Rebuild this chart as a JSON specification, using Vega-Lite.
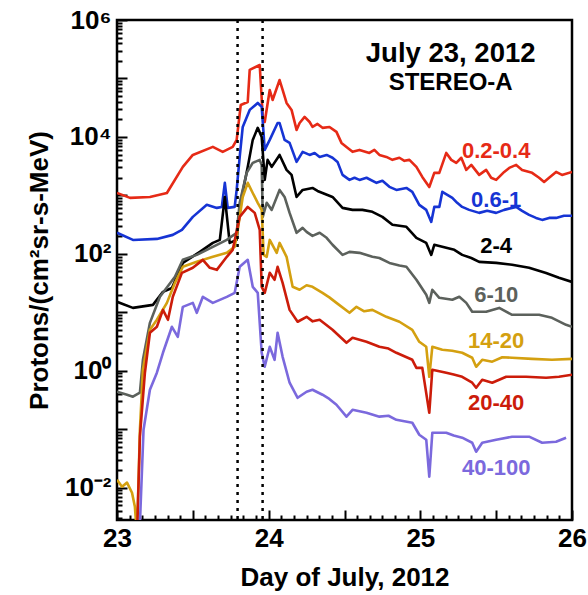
{
  "$schema": "https://vega.github.io/schema/vega-lite/v6.json",
  "width": 455,
  "height": 500,
  "autosize": {"type": "none"},
  "padding": {"left": 117, "top": 20, "right": 16, "bottom": 75},
  "datasets": {
    "flux": [
      {"s": "0.2-0.4", "d": 23.0, "v": 1100}, {"s": "0.2-0.4", "d": 23.086, "v": 906}, {"s": "0.2-0.4", "d": 23.217, "v": 940}, {"s": "0.2-0.4", "d": 23.329, "v": 1100},
      {"s": "0.2-0.4", "d": 23.434, "v": 3070}, {"s": "0.2-0.4", "d": 23.5, "v": 4920}, {"s": "0.2-0.4", "d": 23.632, "v": 6750}, {"s": "0.2-0.4", "d": 23.697, "v": 5550},
      {"s": "0.2-0.4", "d": 23.763, "v": 6750}, {"s": "0.2-0.4", "d": 23.789, "v": 8900}, {"s": "0.2-0.4", "d": 23.816, "v": 35200}, {"s": "0.2-0.4", "d": 23.862, "v": 39600},
      {"s": "0.2-0.4", "d": 23.875, "v": 140000}, {"s": "0.2-0.4", "d": 23.941, "v": 170000}, {"s": "0.2-0.4", "d": 23.961, "v": 22000}, {"s": "0.2-0.4", "d": 23.974, "v": 18000},
      {"s": "0.2-0.4", "d": 24.007, "v": 63500}, {"s": "0.2-0.4", "d": 24.026, "v": 42900}, {"s": "0.2-0.4", "d": 24.072, "v": 94000}, {"s": "0.2-0.4", "d": 24.092, "v": 63500},
      {"s": "0.2-0.4", "d": 24.118, "v": 38100}, {"s": "0.2-0.4", "d": 24.151, "v": 29000}, {"s": "0.2-0.4", "d": 24.184, "v": 13200}, {"s": "0.2-0.4", "d": 24.204, "v": 17300},
      {"s": "0.2-0.4", "d": 24.237, "v": 22000}, {"s": "0.2-0.4", "d": 24.27, "v": 18000}, {"s": "0.2-0.4", "d": 24.289, "v": 14800}, {"s": "0.2-0.4", "d": 24.322, "v": 16700},
      {"s": "0.2-0.4", "d": 24.355, "v": 14300}, {"s": "0.2-0.4", "d": 24.401, "v": 14800}, {"s": "0.2-0.4", "d": 24.447, "v": 12200}, {"s": "0.2-0.4", "d": 24.48, "v": 7900},
      {"s": "0.2-0.4", "d": 24.513, "v": 6750}, {"s": "0.2-0.4", "d": 24.553, "v": 5550}, {"s": "0.2-0.4", "d": 24.599, "v": 6000}, {"s": "0.2-0.4", "d": 24.664, "v": 5320},
      {"s": "0.2-0.4", "d": 24.697, "v": 6000}, {"s": "0.2-0.4", "d": 24.73, "v": 4920}, {"s": "0.2-0.4", "d": 24.776, "v": 4550}, {"s": "0.2-0.4", "d": 24.816, "v": 4050},
      {"s": "0.2-0.4", "d": 24.862, "v": 4400}, {"s": "0.2-0.4", "d": 24.895, "v": 3900}, {"s": "0.2-0.4", "d": 24.928, "v": 4050}, {"s": "0.2-0.4", "d": 24.974, "v": 3070},
      {"s": "0.2-0.4", "d": 25.013, "v": 2070}, {"s": "0.2-0.4", "d": 25.059, "v": 1390}, {"s": "0.2-0.4", "d": 25.092, "v": 2430}, {"s": "0.2-0.4", "d": 25.125, "v": 2430},
      {"s": "0.2-0.4", "d": 25.171, "v": 5320}, {"s": "0.2-0.4", "d": 25.204, "v": 4050}, {"s": "0.2-0.4", "d": 25.237, "v": 3600}, {"s": "0.2-0.4", "d": 25.27, "v": 4400},
      {"s": "0.2-0.4", "d": 25.303, "v": 2730}, {"s": "0.2-0.4", "d": 25.336, "v": 3320}, {"s": "0.2-0.4", "d": 25.388, "v": 2240}, {"s": "0.2-0.4", "d": 25.434, "v": 2730},
      {"s": "0.2-0.4", "d": 25.467, "v": 2000}, {"s": "0.2-0.4", "d": 25.5, "v": 1840}, {"s": "0.2-0.4", "d": 25.553, "v": 2520}, {"s": "0.2-0.4", "d": 25.586, "v": 2950},
      {"s": "0.2-0.4", "d": 25.632, "v": 3320}, {"s": "0.2-0.4", "d": 25.671, "v": 2730}, {"s": "0.2-0.4", "d": 25.737, "v": 2430}, {"s": "0.2-0.4", "d": 25.783, "v": 2000},
      {"s": "0.2-0.4", "d": 25.816, "v": 1700}, {"s": "0.2-0.4", "d": 25.849, "v": 2000}, {"s": "0.2-0.4", "d": 25.895, "v": 2520}, {"s": "0.2-0.4", "d": 25.934, "v": 2240},
      {"s": "0.2-0.4", "d": 26.0, "v": 2520},

      {"s": "0.6-1", "d": 23.0, "v": 229}, {"s": "0.6-1", "d": 23.105, "v": 173}, {"s": "0.6-1", "d": 23.263, "v": 180}, {"s": "0.6-1", "d": 23.368, "v": 211},
      {"s": "0.6-1", "d": 23.428, "v": 257}, {"s": "0.6-1", "d": 23.5, "v": 429}, {"s": "0.6-1", "d": 23.592, "v": 689}, {"s": "0.6-1", "d": 23.658, "v": 611},
      {"s": "0.6-1", "d": 23.691, "v": 635}, {"s": "0.6-1", "d": 23.711, "v": 1640}, {"s": "0.6-1", "d": 23.73, "v": 611}, {"s": "0.6-1", "d": 23.776, "v": 635},
      {"s": "0.6-1", "d": 23.789, "v": 1240}, {"s": "0.6-1", "d": 23.809, "v": 4550}, {"s": "0.6-1", "d": 23.829, "v": 14800}, {"s": "0.6-1", "d": 23.875, "v": 29000},
      {"s": "0.6-1", "d": 23.928, "v": 38100}, {"s": "0.6-1", "d": 23.954, "v": 32600}, {"s": "0.6-1", "d": 23.974, "v": 6000}, {"s": "0.6-1", "d": 24.007, "v": 8900},
      {"s": "0.6-1", "d": 24.059, "v": 17300}, {"s": "0.6-1", "d": 24.072, "v": 17300}, {"s": "0.6-1", "d": 24.105, "v": 8900}, {"s": "0.6-1", "d": 24.138, "v": 7900},
      {"s": "0.6-1", "d": 24.184, "v": 3740}, {"s": "0.6-1", "d": 24.224, "v": 5550}, {"s": "0.6-1", "d": 24.27, "v": 4920}, {"s": "0.6-1", "d": 24.303, "v": 5320},
      {"s": "0.6-1", "d": 24.336, "v": 4550}, {"s": "0.6-1", "d": 24.382, "v": 4920}, {"s": "0.6-1", "d": 24.421, "v": 4400}, {"s": "0.6-1", "d": 24.454, "v": 3740},
      {"s": "0.6-1", "d": 24.487, "v": 2240}, {"s": "0.6-1", "d": 24.533, "v": 1840}, {"s": "0.6-1", "d": 24.566, "v": 2000}, {"s": "0.6-1", "d": 24.599, "v": 1840},
      {"s": "0.6-1", "d": 24.645, "v": 2000}, {"s": "0.6-1", "d": 24.711, "v": 1640}, {"s": "0.6-1", "d": 24.75, "v": 1780}, {"s": "0.6-1", "d": 24.796, "v": 1400},
      {"s": "0.6-1", "d": 24.842, "v": 1240}, {"s": "0.6-1", "d": 24.908, "v": 1340}, {"s": "0.6-1", "d": 24.947, "v": 1150}, {"s": "0.6-1", "d": 24.993, "v": 689},
      {"s": "0.6-1", "d": 25.039, "v": 565}, {"s": "0.6-1", "d": 25.072, "v": 352}, {"s": "0.6-1", "d": 25.092, "v": 635}, {"s": "0.6-1", "d": 25.125, "v": 635},
      {"s": "0.6-1", "d": 25.145, "v": 1150}, {"s": "0.6-1", "d": 25.178, "v": 1020}, {"s": "0.6-1", "d": 25.211, "v": 906}, {"s": "0.6-1", "d": 25.243, "v": 745},
      {"s": "0.6-1", "d": 25.276, "v": 635}, {"s": "0.6-1", "d": 25.322, "v": 565}, {"s": "0.6-1", "d": 25.388, "v": 502}, {"s": "0.6-1", "d": 25.441, "v": 545},
      {"s": "0.6-1", "d": 25.5, "v": 502}, {"s": "0.6-1", "d": 25.553, "v": 565}, {"s": "0.6-1", "d": 25.632, "v": 635}, {"s": "0.6-1", "d": 25.671, "v": 545},
      {"s": "0.6-1", "d": 25.717, "v": 464}, {"s": "0.6-1", "d": 25.763, "v": 412}, {"s": "0.6-1", "d": 25.803, "v": 381}, {"s": "0.6-1", "d": 25.849, "v": 412},
      {"s": "0.6-1", "d": 25.895, "v": 412}, {"s": "0.6-1", "d": 25.947, "v": 447}, {"s": "0.6-1", "d": 26.0, "v": 447},

      {"s": "2-4", "d": 23.0, "v": 15.1}, {"s": "2-4", "d": 23.105, "v": 11.9}, {"s": "2-4", "d": 23.237, "v": 13.4}, {"s": "2-4", "d": 23.303, "v": 22.4},
      {"s": "2-4", "d": 23.362, "v": 26}, {"s": "2-4", "d": 23.434, "v": 70}, {"s": "2-4", "d": 23.546, "v": 108}, {"s": "2-4", "d": 23.632, "v": 154},
      {"s": "2-4", "d": 23.678, "v": 173}, {"s": "2-4", "d": 23.711, "v": 940}, {"s": "2-4", "d": 23.743, "v": 154}, {"s": "2-4", "d": 23.789, "v": 173},
      {"s": "2-4", "d": 23.809, "v": 635}, {"s": "2-4", "d": 23.862, "v": 3070}, {"s": "2-4", "d": 23.895, "v": 8900}, {"s": "2-4", "d": 23.928, "v": 14300},
      {"s": "2-4", "d": 23.954, "v": 10000}, {"s": "2-4", "d": 23.974, "v": 1840}, {"s": "2-4", "d": 23.993, "v": 4050}, {"s": "2-4", "d": 24.02, "v": 3070},
      {"s": "2-4", "d": 24.072, "v": 4920}, {"s": "2-4", "d": 24.118, "v": 2730}, {"s": "2-4", "d": 24.151, "v": 2240}, {"s": "2-4", "d": 24.184, "v": 940},
      {"s": "2-4", "d": 24.224, "v": 1240}, {"s": "2-4", "d": 24.289, "v": 1340}, {"s": "2-4", "d": 24.322, "v": 1190}, {"s": "2-4", "d": 24.355, "v": 1100},
      {"s": "2-4", "d": 24.421, "v": 940}, {"s": "2-4", "d": 24.487, "v": 611}, {"s": "2-4", "d": 24.553, "v": 565}, {"s": "2-4", "d": 24.618, "v": 565},
      {"s": "2-4", "d": 24.684, "v": 523}, {"s": "2-4", "d": 24.75, "v": 429}, {"s": "2-4", "d": 24.816, "v": 315}, {"s": "2-4", "d": 24.908, "v": 290},
      {"s": "2-4", "d": 24.974, "v": 188}, {"s": "2-4", "d": 25.039, "v": 154}, {"s": "2-4", "d": 25.072, "v": 96}, {"s": "2-4", "d": 25.092, "v": 143},
      {"s": "2-4", "d": 25.171, "v": 127}, {"s": "2-4", "d": 25.224, "v": 117}, {"s": "2-4", "d": 25.276, "v": 96}, {"s": "2-4", "d": 25.336, "v": 85},
      {"s": "2-4", "d": 25.388, "v": 73}, {"s": "2-4", "d": 25.5, "v": 70}, {"s": "2-4", "d": 25.605, "v": 65}, {"s": "2-4", "d": 25.717, "v": 58},
      {"s": "2-4", "d": 25.829, "v": 47}, {"s": "2-4", "d": 25.914, "v": 39}, {"s": "2-4", "d": 26.0, "v": 33},

      {"s": "6-10", "d": 23.0, "v": 0.438}, {"s": "6-10", "d": 23.066, "v": 0.389}, {"s": "6-10", "d": 23.105, "v": 0.36}, {"s": "6-10", "d": 23.151, "v": 0.421},
      {"s": "6-10", "d": 23.171, "v": 1.54}, {"s": "6-10", "d": 23.217, "v": 6.6}, {"s": "6-10", "d": 23.283, "v": 18.4}, {"s": "6-10", "d": 23.382, "v": 40.5},
      {"s": "6-10", "d": 23.434, "v": 79}, {"s": "6-10", "d": 23.526, "v": 96}, {"s": "6-10", "d": 23.632, "v": 132}, {"s": "6-10", "d": 23.724, "v": 173},
      {"s": "6-10", "d": 23.789, "v": 229}, {"s": "6-10", "d": 23.809, "v": 745}, {"s": "6-10", "d": 23.855, "v": 2430}, {"s": "6-10", "d": 23.895, "v": 3600},
      {"s": "6-10", "d": 23.941, "v": 4050}, {"s": "6-10", "d": 23.954, "v": 3320}, {"s": "6-10", "d": 23.961, "v": 429}, {"s": "6-10", "d": 23.987, "v": 745},
      {"s": "6-10", "d": 24.02, "v": 565}, {"s": "6-10", "d": 24.072, "v": 1240}, {"s": "6-10", "d": 24.105, "v": 940}, {"s": "6-10", "d": 24.138, "v": 502},
      {"s": "6-10", "d": 24.184, "v": 229}, {"s": "6-10", "d": 24.224, "v": 278}, {"s": "6-10", "d": 24.25, "v": 238}, {"s": "6-10", "d": 24.289, "v": 203},
      {"s": "6-10", "d": 24.336, "v": 229}, {"s": "6-10", "d": 24.382, "v": 188}, {"s": "6-10", "d": 24.421, "v": 143}, {"s": "6-10", "d": 24.487, "v": 96},
      {"s": "6-10", "d": 24.533, "v": 108}, {"s": "6-10", "d": 24.599, "v": 104}, {"s": "6-10", "d": 24.684, "v": 89}, {"s": "6-10", "d": 24.73, "v": 85},
      {"s": "6-10", "d": 24.796, "v": 70}, {"s": "6-10", "d": 24.862, "v": 63}, {"s": "6-10", "d": 24.908, "v": 60}, {"s": "6-10", "d": 24.974, "v": 36},
      {"s": "6-10", "d": 25.039, "v": 19.9}, {"s": "6-10", "d": 25.059, "v": 14.5}, {"s": "6-10", "d": 25.079, "v": 24.3}, {"s": "6-10", "d": 25.125, "v": 17.7},
      {"s": "6-10", "d": 25.211, "v": 16.4}, {"s": "6-10", "d": 25.257, "v": 18.4}, {"s": "6-10", "d": 25.303, "v": 14.5}, {"s": "6-10", "d": 25.342, "v": 10.2},
      {"s": "6-10", "d": 25.434, "v": 10.2}, {"s": "6-10", "d": 25.52, "v": 11.9}, {"s": "6-10", "d": 25.605, "v": 9.06}, {"s": "6-10", "d": 25.697, "v": 9.06},
      {"s": "6-10", "d": 25.783, "v": 9.06}, {"s": "6-10", "d": 25.868, "v": 8.05}, {"s": "6-10", "d": 25.961, "v": 6.11}, {"s": "6-10", "d": 26.0, "v": 5.65},

      {"s": "14-20", "d": 23.0, "v": 0.0137}, {"s": "14-20", "d": 23.033, "v": 0.0104}, {"s": "14-20", "d": 23.066, "v": 0.0122}, {"s": "14-20", "d": 23.099, "v": 0.0082},
      {"s": "14-20", "d": 23.118, "v": 0.0047}, {"s": "14-20", "d": 23.132, "v": 0.0015}, {"s": "14-20", "d": 23.151, "v": 0.098}, {"s": "14-20", "d": 23.171, "v": 1.04},
      {"s": "14-20", "d": 23.217, "v": 5.02}, {"s": "14-20", "d": 23.263, "v": 7.45}, {"s": "14-20", "d": 23.329, "v": 14.5}, {"s": "14-20", "d": 23.382, "v": 31.9},
      {"s": "14-20", "d": 23.434, "v": 60}, {"s": "14-20", "d": 23.526, "v": 73}, {"s": "14-20", "d": 23.632, "v": 89}, {"s": "14-20", "d": 23.724, "v": 104},
      {"s": "14-20", "d": 23.776, "v": 132}, {"s": "14-20", "d": 23.796, "v": 257}, {"s": "14-20", "d": 23.829, "v": 940}, {"s": "14-20", "d": 23.862, "v": 1640},
      {"s": "14-20", "d": 23.895, "v": 1100}, {"s": "14-20", "d": 23.928, "v": 745}, {"s": "14-20", "d": 23.954, "v": 565}, {"s": "14-20", "d": 23.967, "v": 96},
      {"s": "14-20", "d": 23.987, "v": 89}, {"s": "14-20", "d": 24.007, "v": 173}, {"s": "14-20", "d": 24.053, "v": 104}, {"s": "14-20", "d": 24.072, "v": 154},
      {"s": "14-20", "d": 24.118, "v": 89}, {"s": "14-20", "d": 24.158, "v": 27.3}, {"s": "14-20", "d": 24.204, "v": 24.3}, {"s": "14-20", "d": 24.25, "v": 29},
      {"s": "14-20", "d": 24.289, "v": 27.3}, {"s": "14-20", "d": 24.355, "v": 21.5}, {"s": "14-20", "d": 24.4, "v": 18}, {"s": "14-20", "d": 24.447, "v": 14.5},
      {"s": "14-20", "d": 24.533, "v": 9.8}, {"s": "14-20", "d": 24.579, "v": 12.4}, {"s": "14-20", "d": 24.63, "v": 10.4}, {"s": "14-20", "d": 24.684, "v": 11.0},
      {"s": "14-20", "d": 24.776, "v": 8.37}, {"s": "14-20", "d": 24.862, "v": 6.89}, {"s": "14-20", "d": 24.947, "v": 5.02}, {"s": "14-20", "d": 24.993, "v": 3.13},
      {"s": "14-20", "d": 25.039, "v": 2.57}, {"s": "14-20", "d": 25.059, "v": 0.789}, {"s": "14-20", "d": 25.079, "v": 2.57}, {"s": "14-20", "d": 25.145, "v": 2.29},
      {"s": "14-20", "d": 25.21, "v": 2.2}, {"s": "14-20", "d": 25.276, "v": 2.03}, {"s": "14-20", "d": 25.342, "v": 1.67}, {"s": "14-20", "d": 25.368, "v": 1.17},
      {"s": "14-20", "d": 25.408, "v": 1.54}, {"s": "14-20", "d": 25.474, "v": 1.43}, {"s": "14-20", "d": 25.54, "v": 1.7}, {"s": "14-20", "d": 25.605, "v": 1.67},
      {"s": "14-20", "d": 25.737, "v": 1.6}, {"s": "14-20", "d": 25.868, "v": 1.54}, {"s": "14-20", "d": 26.0, "v": 1.6},

      {"s": "20-40", "d": 23.132, "v": 0.0015}, {"s": "20-40", "d": 23.151, "v": 0.0745}, {"s": "20-40", "d": 23.184, "v": 0.925}, {"s": "20-40", "d": 23.217, "v": 4.47},
      {"s": "20-40", "d": 23.263, "v": 5.65}, {"s": "20-40", "d": 23.303, "v": 11.0}, {"s": "20-40", "d": 23.336, "v": 7.45}, {"s": "20-40", "d": 23.368, "v": 18.4},
      {"s": "20-40", "d": 23.428, "v": 47.3}, {"s": "20-40", "d": 23.5, "v": 57.7}, {"s": "20-40", "d": 23.566, "v": 78.9}, {"s": "20-40", "d": 23.612, "v": 57.7},
      {"s": "20-40", "d": 23.658, "v": 53.2}, {"s": "20-40", "d": 23.724, "v": 88.9}, {"s": "20-40", "d": 23.763, "v": 117}, {"s": "20-40", "d": 23.809, "v": 429},
      {"s": "20-40", "d": 23.862, "v": 635}, {"s": "20-40", "d": 23.908, "v": 502}, {"s": "20-40", "d": 23.941, "v": 257}, {"s": "20-40", "d": 23.954, "v": 27.3},
      {"s": "20-40", "d": 23.974, "v": 21.5}, {"s": "20-40", "d": 24.007, "v": 47.3}, {"s": "20-40", "d": 24.039, "v": 36}, {"s": "20-40", "d": 24.059, "v": 60},
      {"s": "20-40", "d": 24.092, "v": 31.9}, {"s": "20-40", "d": 24.138, "v": 11.0}, {"s": "20-40", "d": 24.191, "v": 6.89}, {"s": "20-40", "d": 24.25, "v": 8.37},
      {"s": "20-40", "d": 24.29, "v": 7.0}, {"s": "20-40", "d": 24.336, "v": 7.45}, {"s": "20-40", "d": 24.421, "v": 5.02}, {"s": "20-40", "d": 24.513, "v": 3.01},
      {"s": "20-40", "d": 24.553, "v": 3.66}, {"s": "20-40", "d": 24.645, "v": 3.13}, {"s": "20-40", "d": 24.73, "v": 2.57}, {"s": "20-40", "d": 24.79, "v": 2.4},
      {"s": "20-40", "d": 24.842, "v": 2.03}, {"s": "20-40", "d": 24.947, "v": 1.54}, {"s": "20-40", "d": 24.974, "v": 1.12}, {"s": "20-40", "d": 25.013, "v": 1.12},
      {"s": "20-40", "d": 25.059, "v": 0.191}, {"s": "20-40", "d": 25.079, "v": 1.04}, {"s": "20-40", "d": 25.171, "v": 0.925}, {"s": "20-40", "d": 25.22, "v": 0.86},
      {"s": "20-40", "d": 25.276, "v": 0.789}, {"s": "20-40", "d": 25.342, "v": 0.624}, {"s": "20-40", "d": 25.368, "v": 0.512}, {"s": "20-40", "d": 25.408, "v": 0.702},
      {"s": "20-40", "d": 25.474, "v": 0.624}, {"s": "20-40", "d": 25.566, "v": 0.789}, {"s": "20-40", "d": 25.697, "v": 0.789}, {"s": "20-40", "d": 25.829, "v": 0.759},
      {"s": "20-40", "d": 25.914, "v": 0.789}, {"s": "20-40", "d": 26.0, "v": 0.855},

      {"s": "40-100", "d": 23.148, "v": 0.0015}, {"s": "40-100", "d": 23.175, "v": 0.098}, {"s": "40-100", "d": 23.217, "v": 0.473}, {"s": "40-100", "d": 23.263, "v": 0.925},
      {"s": "40-100", "d": 23.303, "v": 2.03}, {"s": "40-100", "d": 23.362, "v": 5.65}, {"s": "40-100", "d": 23.401, "v": 3.81}, {"s": "40-100", "d": 23.434, "v": 12.4},
      {"s": "40-100", "d": 23.5, "v": 14.5}, {"s": "40-100", "d": 23.526, "v": 9.8}, {"s": "40-100", "d": 23.566, "v": 18.4}, {"s": "40-100", "d": 23.632, "v": 14.5},
      {"s": "40-100", "d": 23.724, "v": 18.4}, {"s": "40-100", "d": 23.776, "v": 21.5}, {"s": "40-100", "d": 23.809, "v": 60}, {"s": "40-100", "d": 23.862, "v": 78.9},
      {"s": "40-100", "d": 23.895, "v": 27.3}, {"s": "40-100", "d": 23.928, "v": 21.5}, {"s": "40-100", "d": 23.954, "v": 2.03}, {"s": "40-100", "d": 23.974, "v": 1.17},
      {"s": "40-100", "d": 24.007, "v": 2.57}, {"s": "40-100", "d": 24.039, "v": 1.54}, {"s": "40-100", "d": 24.059, "v": 4.47}, {"s": "40-100", "d": 24.092, "v": 1.73},
      {"s": "40-100", "d": 24.138, "v": 0.624}, {"s": "40-100", "d": 24.191, "v": 0.345}, {"s": "40-100", "d": 24.25, "v": 0.438}, {"s": "40-100", "d": 24.289, "v": 0.473},
      {"s": "40-100", "d": 24.355, "v": 0.389}, {"s": "40-100", "d": 24.4, "v": 0.33}, {"s": "40-100", "d": 24.447, "v": 0.262}, {"s": "40-100", "d": 24.513, "v": 0.164},
      {"s": "40-100", "d": 24.553, "v": 0.215}, {"s": "40-100", "d": 24.645, "v": 0.191}, {"s": "40-100", "d": 24.73, "v": 0.164}, {"s": "40-100", "d": 24.79, "v": 0.17},
      {"s": "40-100", "d": 24.842, "v": 0.145}, {"s": "40-100", "d": 24.947, "v": 0.129}, {"s": "40-100", "d": 24.993, "v": 0.0805}, {"s": "40-100", "d": 25.039, "v": 0.0662},
      {"s": "40-100", "d": 25.059, "v": 0.0154}, {"s": "40-100", "d": 25.079, "v": 0.0871}, {"s": "40-100", "d": 25.171, "v": 0.0871}, {"s": "40-100", "d": 25.22, "v": 0.078},
      {"s": "40-100", "d": 25.276, "v": 0.0716}, {"s": "40-100", "d": 25.342, "v": 0.0587}, {"s": "40-100", "d": 25.368, "v": 0.0412}, {"s": "40-100", "d": 25.408, "v": 0.0587},
      {"s": "40-100", "d": 25.5, "v": 0.0662}, {"s": "40-100", "d": 25.605, "v": 0.0745}, {"s": "40-100", "d": 25.717, "v": 0.0745}, {"s": "40-100", "d": 25.803, "v": 0.0587},
      {"s": "40-100", "d": 25.895, "v": 0.0611}, {"s": "40-100", "d": 25.961, "v": 0.0716}
    ],
    "labels": [
      {"s": "0.2-0.4", "d": 25.5, "v": 4370},
      {"s": "0.6-1", "d": 25.5, "v": 635},
      {"s": "2-4", "d": 25.5, "v": 104},
      {"s": "6-10", "d": 25.5, "v": 15.1},
      {"s": "14-20", "d": 25.5, "v": 2.47},
      {"s": "20-40", "d": 25.5, "v": 0.215},
      {"s": "40-100", "d": 25.5, "v": 0.0167}
    ],
    "markers": [{"d": 23.795}, {"d": 23.96}]
  },
  "resolve": {"axis": {"x": "independent", "y": "independent"}},
  "layer": [
    {
      "data": {"name": "flux"},
      "mark": {"type": "line", "strokeWidth": 2.6, "clip": true, "strokeJoin": "round"},
      "encoding": {
        "x": {
          "field": "d", "type": "quantitative",
          "scale": {"domain": [23, 26], "nice": false, "zero": false},
          "axis": {
            "orient": "bottom", "title": "Day of July, 2012",
            "values": [23, 23.0833, 23.1667, 23.25, 23.3333, 23.4167, 23.5, 23.5833, 23.6667, 23.75, 23.8333, 23.9167, 24, 24.0833, 24.1667, 24.25, 24.3333, 24.4167, 24.5, 24.5833, 24.6667, 24.75, 24.8333, 24.9167, 25, 25.0833, 25.1667, 25.25, 25.3333, 25.4167, 25.5, 25.5833, 25.6667, 25.75, 25.8333, 25.9167, 26],
            "tickSize": {"condition": {"test": "abs(datum.value * 2 - round(datum.value * 2)) < 0.01", "value": -10}, "value": -5},
            "tickColor": "black", "tickWidth": 2,
            "labelExpr": "abs(datum.value - round(datum.value)) < 0.01 ? format(datum.value, 'd') : ''",
            "labelPadding": 15, "labelOverlap": false, "labelFlush": false, "titlePadding": 8
          }
        },
        "y": {
          "field": "v", "type": "quantitative",
          "scale": {"type": "log", "domain": [0.0028, 1000000], "nice": false, "zero": false},
          "axis": {
            "orient": "left", "title": "Protons/(cm²sr-s-MeV)",
            "values": [0.003, 0.004, 0.005, 0.006, 0.007, 0.008, 0.009, 0.01, 0.02, 0.03, 0.04, 0.05, 0.06, 0.07, 0.08, 0.09, 0.1, 0.2, 0.3, 0.4, 0.5, 0.6, 0.7, 0.8, 0.9, 1, 2, 3, 4, 5, 6, 7, 8, 9, 10, 20, 30, 40, 50, 60, 70, 80, 90, 100, 200, 300, 400, 500, 600, 700, 800, 900, 1000, 2000, 3000, 4000, 5000, 6000, 7000, 8000, 9000, 10000, 20000, 30000, 40000, 50000, 60000, 70000, 80000, 90000, 100000, 200000, 300000, 400000, 500000, 600000, 700000, 800000, 900000, 1000000],
            "tickSize": {"condition": {"test": "abs(log(datum.value) / LN10 - round(log(datum.value) / LN10)) < 0.001", "value": -10}, "value": -5},
            "tickColor": "black", "tickWidth": 2,
            "labelExpr": "datum.value == 1000000 ? '10⁶' : datum.value == 10000 ? '10⁴' : datum.value == 100 ? '10²' : datum.value == 1 ? '10⁰' : datum.value == 0.01 ? '10⁻²' : ''",
            "labelPadding": 16, "labelOverlap": false, "labelFlush": false, "titlePadding": 12
          }
        },
        "color": {
          "field": "s", "type": "nominal", "legend": null,
          "scale": {
            "domain": ["0.2-0.4", "0.6-1", "2-4", "6-10", "14-20", "20-40", "40-100"],
            "range": ["#e62a16", "#1634d4", "#000000", "#5c615c", "#d4a010", "#cc1c0a", "#7b69dd"]
          }
        }
      }
    },
    {
      "layer": [
        {
          "data": {"name": "labels"},
          "mark": {"type": "text", "font": "Liberation Sans", "fontWeight": "bold", "fontSize": 22, "align": "center", "baseline": "alphabetic"},
          "encoding": {
            "x": {
              "field": "d", "type": "quantitative",
              "axis": {
                "orient": "top", "title": null, "labels": false,
                "values": [23, 23.0833, 23.1667, 23.25, 23.3333, 23.4167, 23.5, 23.5833, 23.6667, 23.75, 23.8333, 23.9167, 24, 24.0833, 24.1667, 24.25, 24.3333, 24.4167, 24.5, 24.5833, 24.6667, 24.75, 24.8333, 24.9167, 25, 25.0833, 25.1667, 25.25, 25.3333, 25.4167, 25.5, 25.5833, 25.6667, 25.75, 25.8333, 25.9167, 26],
                "tickSize": {"condition": {"test": "abs(datum.value * 2 - round(datum.value * 2)) < 0.01", "value": -10}, "value": -5},
                "tickColor": "black", "tickWidth": 2
              }
            },
            "y": {
              "field": "v", "type": "quantitative",
              "axis": {
                "orient": "right", "title": null, "labels": false,
                "values": [0.003, 0.004, 0.005, 0.006, 0.007, 0.008, 0.009, 0.01, 0.02, 0.03, 0.04, 0.05, 0.06, 0.07, 0.08, 0.09, 0.1, 0.2, 0.3, 0.4, 0.5, 0.6, 0.7, 0.8, 0.9, 1, 2, 3, 4, 5, 6, 7, 8, 9, 10, 20, 30, 40, 50, 60, 70, 80, 90, 100, 200, 300, 400, 500, 600, 700, 800, 900, 1000, 2000, 3000, 4000, 5000, 6000, 7000, 8000, 9000, 10000, 20000, 30000, 40000, 50000, 60000, 70000, 80000, 90000, 100000, 200000, 300000, 400000, 500000, 600000, 700000, 800000, 900000, 1000000],
                "tickSize": {"condition": {"test": "abs(log(datum.value) / LN10 - round(log(datum.value) / LN10)) < 0.001", "value": -10}, "value": -5},
                "tickColor": "black", "tickWidth": 2
              }
            },
            "text": {"field": "s"},
            "color": {"field": "s", "type": "nominal", "legend": null}
          }
        },
        {
          "data": {"name": "markers"},
          "mark": {"type": "rule", "color": "black", "strokeWidth": 2.5, "strokeDash": [3, 5]},
          "encoding": {
            "x": {"field": "d", "type": "quantitative", "axis": null}
          }
        },
        {
          "data": {"values": [{"t": "July 23, 2012", "d": 25.2, "v": 191000}]},
          "mark": {"type": "text", "font": "Liberation Sans", "fontWeight": "bold", "fontSize": 27.5, "align": "center", "baseline": "alphabetic", "color": "black"},
          "encoding": {
            "x": {"field": "d", "type": "quantitative", "axis": null},
            "y": {"field": "v", "type": "quantitative", "axis": null},
            "text": {"field": "t"}
          }
        },
        {
          "data": {"values": [{"t": "STEREO-A", "d": 25.2, "v": 63500}]},
          "mark": {"type": "text", "font": "Liberation Sans", "fontWeight": "bold", "fontSize": 24, "align": "center", "baseline": "alphabetic", "color": "black"},
          "encoding": {
            "x": {"field": "d", "type": "quantitative", "axis": null},
            "y": {"field": "v", "type": "quantitative", "axis": null},
            "text": {"field": "t"}
          }
        }
      ]
    }
  ],
  "config": {
    "font": "Liberation Sans",
    "view": {"stroke": "black", "strokeWidth": 2.5},
    "axis": {
      "domain": false, "grid": false,
      "labelFont": "Liberation Sans", "labelFontWeight": "bold", "labelFontSize": 26, "labelColor": "black",
      "titleFont": "Liberation Sans", "titleFontWeight": "bold", "titleFontSize": 26, "titleColor": "black"
    }
  }
}
